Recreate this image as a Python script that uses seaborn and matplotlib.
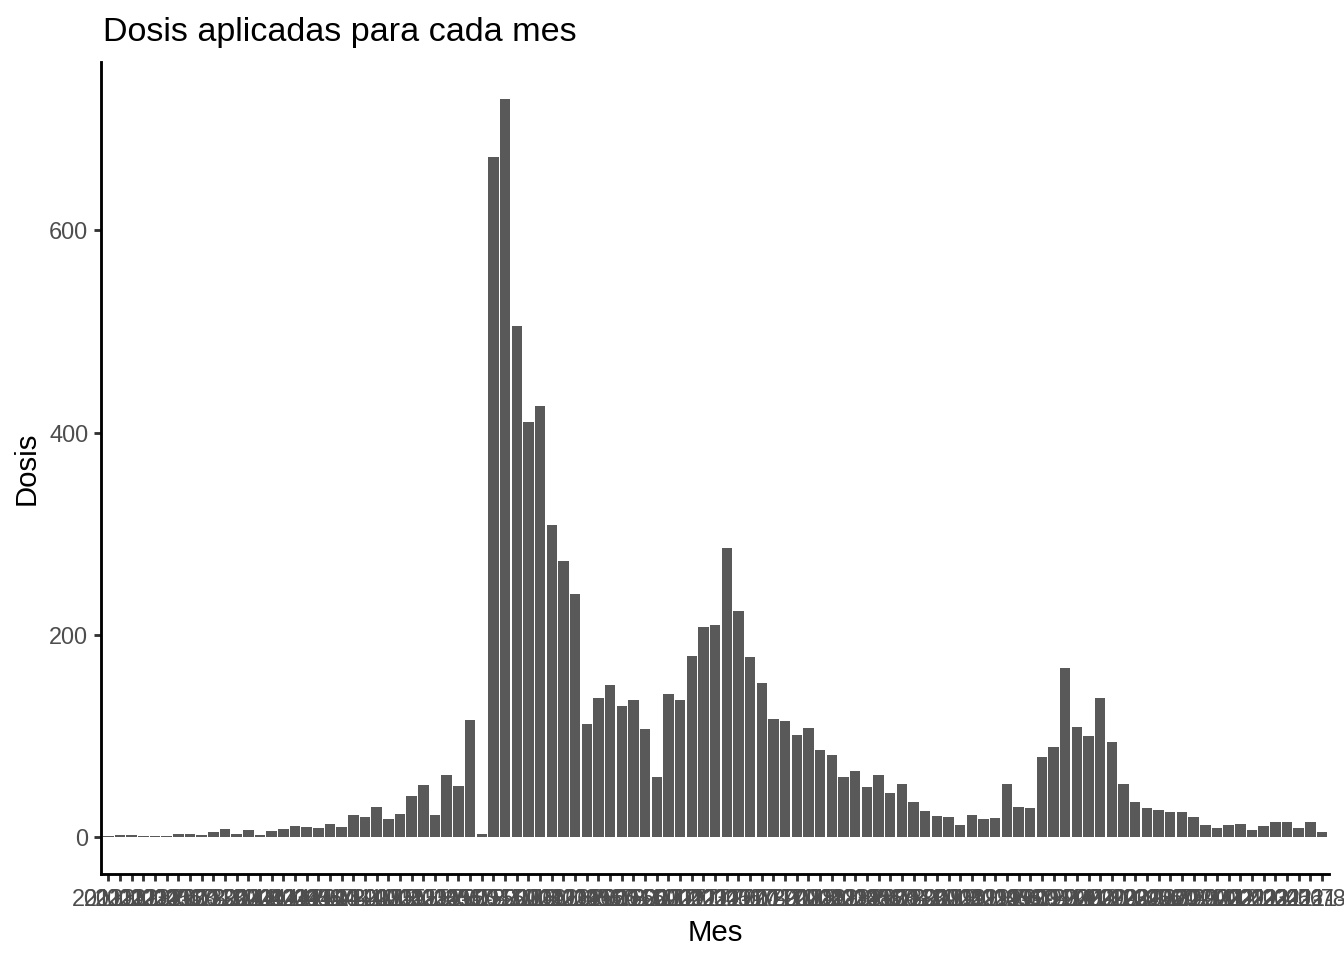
import matplotlib
matplotlib.use("Agg")
import matplotlib.pyplot as plt
import seaborn as sns
import pandas as pd

# month labels (unreadable in the original, overlapped)
years = list(range(2013, 2022))
meses = [f"{y}-{m}" for y in years for m in range(1, 13)][:105]

dosis = [
    1, 2, 2, 1, 1, 1, 3, 3, 2, 5,
    8, 3, 7, 2, 6, 8, 11, 10, 9, 13,
    10, 22, 20, 30, 18, 23, 41, 52, 22, 62,
    51, 116, 3, 673, 730, 506, 411, 426, 309, 273,
    241, 112, 138, 151, 130, 136, 107, 60, 142, 136,
    179, 208, 210, 286, 224, 178, 153, 117, 115, 101,
    108, 86, 81, 60, 66, 50, 62, 44, 53, 35,
    26, 21, 20, 12, 22, 18, 19, 53, 30, 29,
    80, 89, 167, 109, 100, 138, 94, 53, 35, 29,
    27, 25, 25, 20, 12, 9, 12, 13, 7, 11,
    15, 15, 9, 15, 5,
]

df = pd.DataFrame({"Mes": meses, "Dosis": dosis})

sns.set_style("ticks")
plt.rcParams["font.family"] = ["Liberation Sans", "DejaVu Sans"]

fig = plt.figure(figsize=(7, 5), dpi=192)
ax = fig.add_axes([0.0754, 0.0892, 0.9134, 0.8462])

sns.barplot(
    data=df, x="Mes", y="Dosis", order=meses,
    color="#595959", saturation=1, width=0.9, linewidth=0, ax=ax,
)

ax.set_xlim(-0.6, len(meses) - 0.4)
ax.set_ylim(-36.5, 766.5)
ax.set_yticks([0, 200, 400, 600])

for side in ["top", "right"]:
    ax.spines[side].set_visible(False)
for side in ["left", "bottom"]:
    ax.spines[side].set_linewidth(1.07)
    ax.spines[side].set_color("black")

ax.tick_params(axis="both", length=2.75, width=1.07, color="#333333",
               labelsize=8.8, labelcolor="#4D4D4D", pad=2.2)

ax.set_xlabel("Mes", fontsize=11, color="black", labelpad=3)
ax.set_ylabel("Dosis", fontsize=11, color="black", labelpad=3)

fig.text(103 / 1344, 1 - 41 / 960, "Dosis aplicadas para cada mes",
         fontsize=12.8, color="black", ha="left", va="baseline")

fig.savefig("out.png", dpi=192)
